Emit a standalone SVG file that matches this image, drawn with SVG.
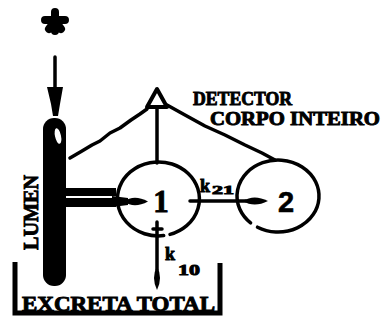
<svg xmlns="http://www.w3.org/2000/svg" width="382" height="325" viewBox="0 0 382 325">
<style>
.ln{fill:none;stroke:#000;stroke-width:3.5;stroke-linecap:round;stroke-linejoin:round}
.blk{fill:#000;stroke:none}
.t{font-family:"Liberation Serif","DejaVu Serif",serif;font-weight:bold;fill:#000;stroke:#000;stroke-width:0.9}
.s{font-family:"Liberation Sans","DejaVu Sans",sans-serif;font-weight:bold;fill:#000;stroke:#000;stroke-width:0.6}
</style>
<rect width="382" height="325" fill="#fff"/>
<g id="tracer">
<path d="M55 12 L55 31 M45 20 L65 20 M55 21 L49 29 M55 21 L61 29" stroke="#000" stroke-width="8" stroke-linecap="round" fill="none"/>
</g>
<g id="lumen">
<rect x="43" y="118" width="23" height="168" rx="11" ry="11" class="blk"/>
<ellipse cx="58" cy="136" rx="3" ry="8" fill="#fff" transform="rotate(-12 58 136)"/>
<text class="t" font-size="22" transform="translate(38,250) rotate(-90)" textLength="75" lengthAdjust="spacingAndGlyphs">LUMEN</text>
</g>
<g id="detector">
<path d="M157 89 L147 107 L167 107 Z" fill="#fff" stroke="#000" stroke-width="4" stroke-linejoin="round"/>
<text class="t" font-size="18" x="193" y="105" textLength="99" lengthAdjust="spacingAndGlyphs">DETECTOR</text>
<text class="t" font-size="18" x="210" y="125" textLength="170" lengthAdjust="spacingAndGlyphs">CORPO INTEIRO</text>
</g>
<g id="comp1">
<path class="ln" d="M163.7 235.6 A41 37 0 1 1 170 234.4"/>
<text class="t" font-size="31" x="161" y="212" text-anchor="middle">1</text>
</g>
<g id="comp2">
<path class="ln" d="M250.6 222.8 A41 36 0 1 1 257.5 227.2"/>
<text class="s" font-size="29" x="286" y="212" text-anchor="middle">2</text>
</g>
<g id="excreta">
<path d="M15 262 L15 313 L220 313 L220 263" fill="none" stroke="#000" stroke-width="5" stroke-linejoin="miter"/>
<text class="t" font-size="20" x="22" y="311" textLength="193" lengthAdjust="spacingAndGlyphs">EXCRETA TOTAL</text>
</g>
<g id="connectors">
<line class="ln" x1="55" y1="57" x2="55" y2="88"/>
<path class="blk" d="M47 87 L63 87 L60 104 L58 116 L53 116 L51 104 Z"/>
<path class="ln" d="M70 158 L82 151 L92 145 L100 141 L110 133 L120 128 L131 120 L140 114 L147 109"/>
<path class="ln" d="M167 105 L185 115 L205 126 L225 135 L245 145 L262 153 L275 160"/>
<line class="ln" x1="157" y1="108" x2="157" y2="163"/>
<rect x="64" y="188" width="52" height="8" class="blk"/>
<rect x="64" y="198" width="52" height="9" class="blk"/>
<path class="blk" d="M112 196 L128 198 L128 205 L112 207 Z"/>
<path class="blk" d="M124 201.5 Q134 194 148 201.5 Q134 209 124 201.5 Z"/>
<line class="ln" x1="190" y1="201" x2="246" y2="201" stroke-width="3"/>
<path class="blk" d="M243 201 Q254 194 268 201 Q254 208 243 201 Z"/>
<line class="ln" x1="157" y1="222" x2="157" y2="270" stroke-width="3"/>
<line class="ln" x1="153" y1="229" x2="162" y2="229" stroke-width="2.5"/>
<path class="blk" d="M157 290 Q151 278 157 266 Q163 278 157 290 Z"/>
<text class="t" font-size="18" x="200" y="192">k</text>
<text class="t" font-size="12" x="212" y="194" textLength="22" lengthAdjust="spacingAndGlyphs">21</text>
<text class="t" font-size="18" x="165" y="260">k</text>
<text class="t" font-size="15" x="178" y="275" textLength="22" lengthAdjust="spacingAndGlyphs">10</text>
</g>
</svg>
